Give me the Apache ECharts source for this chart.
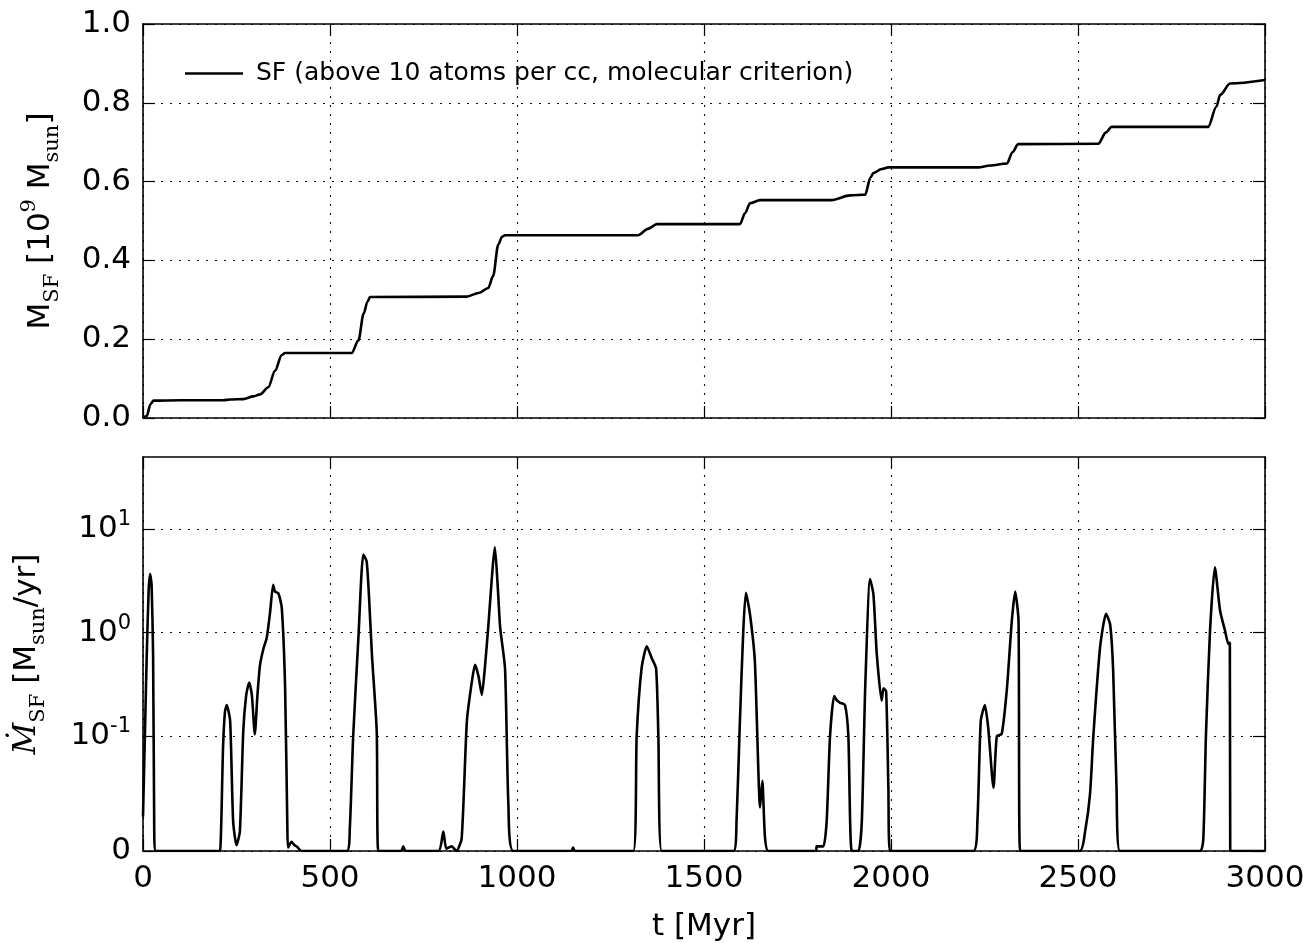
<!DOCTYPE html>
<html>
<head>
<meta charset="utf-8">
<script src="https://cdn.jsdelivr.net/npm/echarts@6/dist/echarts.min.js"></script>
<style>html,body{margin:0;padding:0;background:#fff}#c{width:1316px;height:943px}</style>
</head>
<body>
<div id="c"></div>
<script>
// ---- data ----
const tTop = [0, 10, 20, 28, 100, 215, 233, 268, 295, 313, 335, 353, 371, 380, 558, 576, 590, 600, 607, 865, 900, 923, 936, 950, 960, 968, 1324, 1350, 1374, 1596, 1610, 1623, 1650, 1841, 1891, 1931, 1945, 1953, 1975, 1993, 2233, 2265, 2310, 2325, 2340, 2554, 2575, 2590, 2848, 2870, 2880, 2907, 3000];
const mTop = [0, 0.005, 0.035, 0.044, 0.045, 0.045, 0.047, 0.048, 0.055, 0.06, 0.078, 0.12, 0.16, 0.165, 0.165, 0.197, 0.265, 0.295, 0.307, 0.308, 0.318, 0.33, 0.36, 0.44, 0.46, 0.464, 0.464, 0.48, 0.492, 0.492, 0.52, 0.545, 0.553, 0.553, 0.565, 0.567, 0.61, 0.622, 0.632, 0.636, 0.636, 0.641, 0.646, 0.675, 0.695, 0.696, 0.725, 0.739, 0.739, 0.79, 0.82, 0.849, 0.858];

const tSfr = [0, 5, 10, 15, 19, 23, 27, 30, 32, 200,
  206, 214, 219, 224, 233, 241, 250, 259, 268, 276, 284, 291, 299, 306, 313, 322, 331, 340, 348, 353, 362, 371, 380, 386, 388, 397, 405, 411, 424,
  545, 553, 562, 576, 589, 598, 605, 612, 625, 629, 690, 696, 702,
  790, 803, 811, 825, 838, 852, 866, 880, 888, 897, 906, 915, 923, 941, 948, 955, 968, 977, 990, 1145, 1150, 1155,
  1311, 1320, 1333, 1347, 1360, 1372, 1378, 1387,
  1579, 1587, 1596, 1605, 1612, 1623, 1636, 1650, 1656, 1663, 1672,
  1800, 1801, 1819, 1828, 1837, 1848, 1856, 1864, 1877, 1886, 1895,
  1913, 1922, 1931, 1944, 1953, 1962, 1975, 1980, 1987, 1993, 1997,
  2220, 2231, 2240, 2251, 2260, 2274, 2283, 2296, 2310, 2323, 2332, 2341, 2345,
  2505, 2519, 2532, 2541, 2559, 2575, 2586, 2594, 2603, 2612,
  2826, 2835, 2842, 2853, 2866, 2880, 2893, 2902, 2906, 2907, 3000];
const sfr = [0.03, 0.1, 0.6, 2.5, 3.7, 2.9, 0.6, 0.02, 0, 0,
  0, 0.09, 0.17, 0.2, 0.14, 0.026, 0.005, 0.017, 0.11, 0.25, 0.33, 0.25, 0.104, 0.25, 0.49, 0.7, 0.9, 1.6, 2.9, 2.5, 2.4, 1.75, 0.29, 0.02, 0.003, 0.008, 0.005, 0.004, 0,
  0, 0.02, 0.1, 0.9, 5.7, 4.9, 2.0, 0.62, 0.11, 0, 0, 0.004, 0,
  0, 0.017, 0.002, 0.004, 0, 0.011, 0.14, 0.35, 0.49, 0.38, 0.25, 0.5, 1.12, 6.7, 3.0, 1.12, 0.45, 0.04, 0, 0, 0.003, 0,
  0, 0.1, 0.45, 0.74, 0.57, 0.45, 0.1, 0,
  0, 0.026, 0.14, 1.04, 2.43, 1.5, 0.53, 0.038, 0.061, 0.012, 0,
  0, 0.004, 0.004, 0.026, 0.1, 0.244, 0.22, 0.21, 0.2, 0.1, 0,
  0, 0.026, 0.29, 3.3, 2.35, 0.62, 0.22, 0.29, 0.27, 0.055, 0,
  0, 0.026, 0.14, 0.2, 0.12, 0.055, 0.1, 0.105, 0.29, 1.3, 2.5, 1.3, 0,
  0, 0.017, 0.049, 0.1, 0.72, 1.52, 1.2, 0.43, 0.055, 0,
  0, 0.01, 0.1, 1.04, 4.3, 1.62, 1.05, 0.78, 0.8, 0, 0];

const xTicks = [0, 500, 1000, 1500, 2000, 2500, 3000];
const topYTicks = [0, 0.2, 0.4, 0.6, 0.8, 1.0];
const sfrTicks = [0, 0.1, 1, 10];
const sfrTickLabels = ['0', '10^-1', '10^0', '10^1'];
const sfrMax = 50;
const legendName = 'SF (above 10 atoms per cc, molecular criterion)';

// ---- symlog transform (linthresh 0.1, base 10) ----
const LT = 0.1, LS = 1 / (1 - 1 / 10);
function symlog(v) { return v <= LT ? (v / LT) * LS : LS + Math.log10(v / LT); }

const FONT = 'DejaVu Sans';
const SERIF = 'DejaVu Serif';
const FS = 31;
const black = '#000';

const frameLine = { show: true, onZero: false, lineStyle: { color: black, width: 1.6 } };
const tickIn = { show: true, inside: true, length: 12, lineStyle: { color: black, width: 1.2 } };
const gridLine = { show: true, lineStyle: { color: '#111', width: 1.1, type: [2, 7] } };

const richLabel = {
  b: { fontFamily: FONT, fontSize: FS, color: black, lineHeight: 40 },
  p: { fontFamily: FONT, fontSize: 21, color: black, verticalAlign: 'top' }
};

function fmtSfr(v) {
  for (let i = 0; i < sfrTicks.length; i++) {
    if (Math.abs(symlog(sfrTicks[i]) - v) < 1e-6) {
      const s = sfrTickLabels[i];
      if (s.indexOf('^') < 0) return '{b|' + s + '}';
      const parts = s.split('^');
      return '{b|' + parts[0] + '}{p|' + parts[1] + '}';
    }
  }
  return '';
}

const sfrCustom = sfrTicks.map(symlog);

const chart = echarts.init(document.getElementById('c'), null, { renderer: 'canvas' });
chart.setOption({
  backgroundColor: '#fff',
  animation: false,
  grid: [
    { left: 143, right: 51, top: 24, height: 394 },
    { left: 143, right: 51, top: 457, height: 394 }
  ],
  legend: {
    show: true,
    left: 180,
    top: 56,
    itemWidth: 58,
    itemHeight: 14,
    icon: 'path://M0,0 L58,0 L58,2.6 L0,2.6 Z',
    data: [legendName],
    textStyle: { fontFamily: FONT, fontSize: 25, color: black, padding: [0, 0, 0, 8] }
  },
  xAxis: [
    { gridIndex: 0, type: 'value', min: 0, max: 3000, interval: 500, position: 'bottom',
      axisLine: frameLine, axisTick: tickIn, axisLabel: { show: false }, splitLine: gridLine },
    { gridIndex: 0, type: 'value', min: 0, max: 3000, interval: 500, position: 'top',
      axisLine: frameLine, axisTick: tickIn, axisLabel: { show: false }, splitLine: { show: false } },
    { gridIndex: 1, type: 'value', min: 0, max: 3000, interval: 500, position: 'bottom',
      axisLine: frameLine, axisTick: tickIn,
      axisLabel: { show: true, margin: 12, fontFamily: FONT, fontSize: FS, color: black,
        formatter: v => String(v) },
      splitLine: gridLine,
      name: 't [Myr]', nameLocation: 'middle', nameGap: 60,
      nameTextStyle: { fontFamily: FONT, fontSize: FS, color: black } },
    { gridIndex: 1, type: 'value', min: 0, max: 3000, interval: 500, position: 'top',
      axisLine: frameLine, axisTick: tickIn, axisLabel: { show: false }, splitLine: { show: false } }
  ],
  yAxis: [
    { gridIndex: 0, type: 'value', min: 0, max: 1, interval: 0.2, position: 'left',
      axisLine: frameLine, axisTick: tickIn,
      axisLabel: { show: true, margin: 12, fontFamily: FONT, fontSize: FS, color: black,
        formatter: v => v.toFixed(1) },
      splitLine: gridLine,
      name: '{m|M}{s|SF}{m| [10}{p|9}{m| M}{s|sun}{m|]}',
      nameLocation: 'middle', nameGap: 80, nameRotate: 90,
      nameTextStyle: { rich: {
        m: { fontFamily: FONT, fontSize: FS, color: black, lineHeight: 44 },
        s: { fontFamily: SERIF, fontSize: 21, color: black, verticalAlign: 'bottom' },
        p: { fontFamily: SERIF, fontSize: 21, color: black, verticalAlign: 'top' }
      } } },
    { gridIndex: 0, type: 'value', min: 0, max: 1, interval: 0.2, position: 'right',
      axisLine: frameLine, axisTick: tickIn, axisLabel: { show: false }, splitLine: { show: false } },
    { gridIndex: 1, type: 'value', min: 0, max: symlog(sfrMax), position: 'left',
      axisLine: frameLine,
      axisTick: Object.assign({}, tickIn, { customValues: sfrCustom }),
      axisLabel: { show: true, margin: 12, customValues: sfrCustom, formatter: fmtSfr, rich: richLabel },
      splitLine: gridLine,
      name: '{mi|Ṁ}{s|SF}{m| [M}{s|sun}{m|/yr]}',
      nameLocation: 'middle', nameGap: 94, nameRotate: 90,
      nameTextStyle: { rich: {
        m: { fontFamily: FONT, fontSize: FS, color: black, lineHeight: 44 },
        mi: { fontFamily: SERIF, fontStyle: 'italic', fontSize: FS, color: black, lineHeight: 44 },
        s: { fontFamily: SERIF, fontSize: 21, color: black, verticalAlign: 'bottom' }
      } } },
    { gridIndex: 1, type: 'value', min: 0, max: symlog(sfrMax), position: 'right',
      axisLine: frameLine,
      axisTick: Object.assign({}, tickIn, { customValues: sfrCustom }),
      axisLabel: { show: false }, splitLine: { show: false } }
  ],
  series: [
    { name: legendName, type: 'line', xAxisIndex: 0, yAxisIndex: 0, symbol: 'none',
      smooth: 0.3, smoothMonotone: 'x',
      lineStyle: { color: black, width: 2.6 }, itemStyle: { color: black },
      data: tTop.map((t, i) => [t, mTop[i]]) },
    { name: 'SFR', type: 'line', xAxisIndex: 2, yAxisIndex: 2, symbol: 'none',
      smooth: 0.2,
      lineStyle: { color: black, width: 2.6 }, itemStyle: { color: black },
      data: tSfr.map((t, i) => [t, symlog(sfr[i])]) }
  ]
});
</script>
</body>
</html>
